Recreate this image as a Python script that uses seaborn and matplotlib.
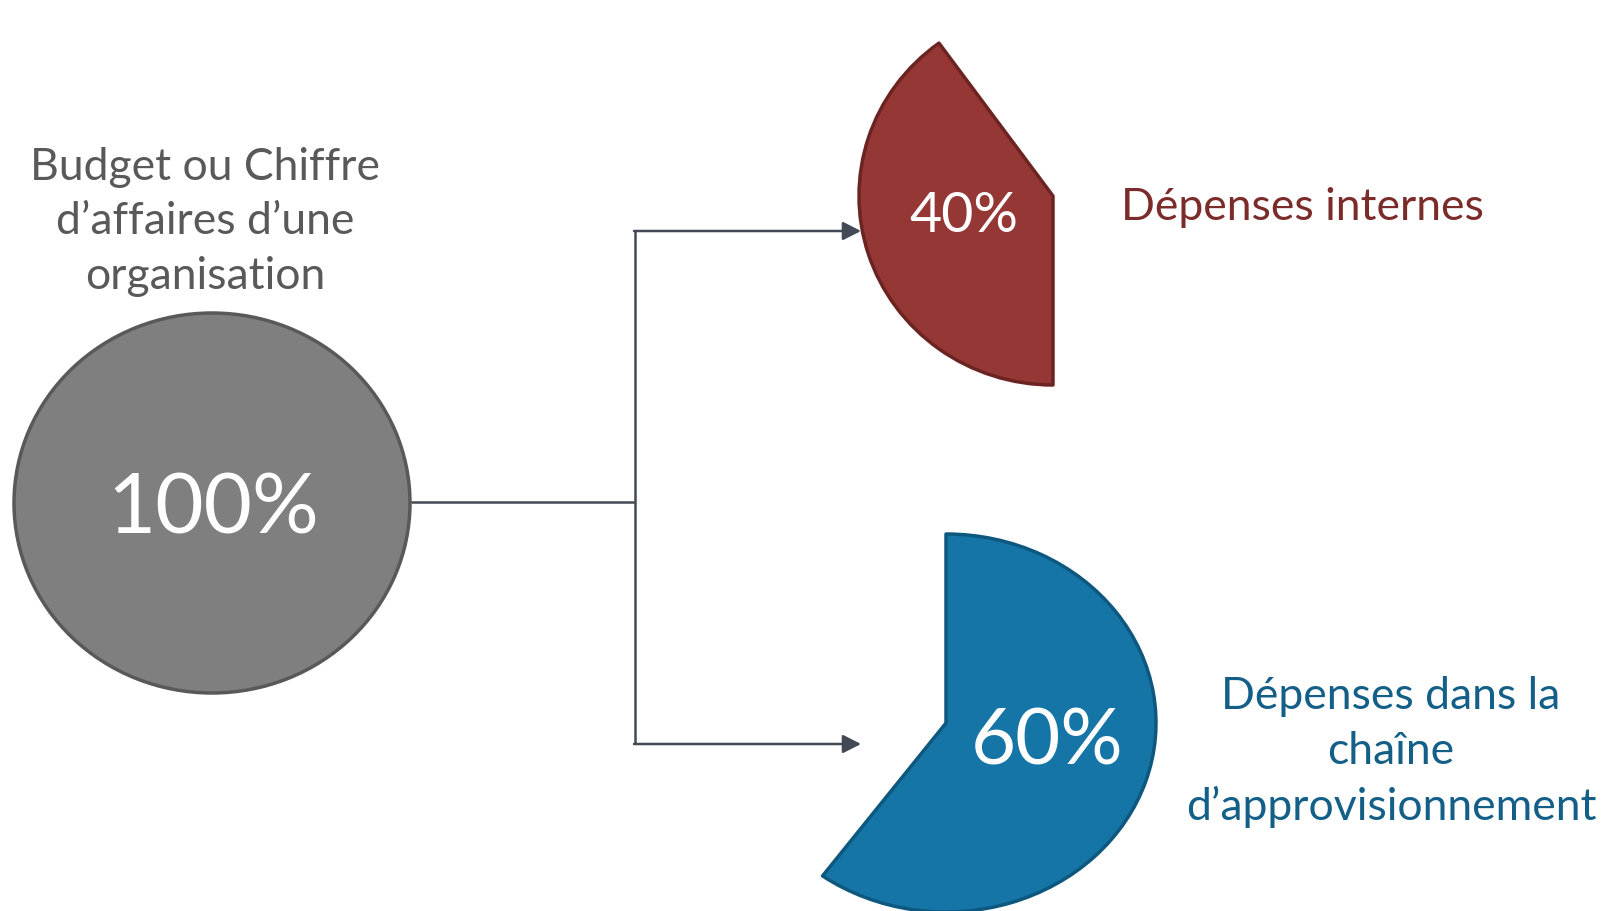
import matplotlib
matplotlib.use("Agg")
import matplotlib.pyplot as plt
from matplotlib.transforms import Affine2D
import seaborn as sns

# Data
total_share = 100
source_label = "Budget ou Chiffre\nd’affaires d’une\norganisation"
categories = ["Dépenses internes", "Dépenses dans la\nchaîne\nd’approvisionnement"]
shares = [40, 60]

sns.set_theme(style="white")
plt.rcParams["font.family"] = ["Lato", "DejaVu Sans"]

W, H = 1604, 911
fig = plt.figure(figsize=(W / 100, H / 100), dpi=100)
ax = fig.add_axes([0, 0, 1, 1])


def Y(y):
    # picture rows are counted from the top
    return H - y


def ellipse_pie(frac, cx, cy, rx, ry, start, face, edge):
    wedges, _ = ax.pie([frac], normalize=False, startangle=start, counterclock=False,
                       colors=[face], radius=1, center=(0, 0),
                       wedgeprops=dict(edgecolor=edge, linewidth=2.5, joinstyle="round"))
    for w in wedges:
        w.set_transform(Affine2D().scale(rx, ry).translate(cx, Y(cy)) + ax.transData)
    return wedges


# 100% source circle
ellipse_pie(total_share / total_share, 212, 503, 198, 190, 90, "#7f7f7f", "#595959")
ax.text(213, Y(510), f"{total_share}%", color="white", fontsize=60, ha="center", va="center")
ax.text(205, Y(222), source_label, color="#595959", fontsize=32, ha="center", va="center",
        linespacing=1.42)

# connectors
line_kw = dict(color="#434a55", lw=1.8, solid_capstyle="butt")
ax.plot([411, 635], [Y(502), Y(502)], **line_kw)
ax.plot([635, 635], [Y(231), Y(744)], **line_kw)
for yy in (231, 744):
    ax.annotate("", xy=(861, Y(yy)), xytext=(634, Y(yy)),
                arrowprops=dict(arrowstyle="-|>,head_length=0.55,head_width=0.28",
                                color="#434a55", lw=1.8, shrinkA=0, shrinkB=0,
                                mutation_scale=20))

# 40% wedge (internal spending)
ellipse_pie(shares[0] / total_share, 1053, 196, 194, 189, 270, "#953735", "#6b2422")
ax.text(964, Y(217), f"{shares[0]}%", color="white", fontsize=40, ha="center", va="center")
ax.text(1121, Y(207), categories[0], color="#7b2b29", fontsize=32, ha="left", va="center")

# 60% wedge (supply chain spending)
ellipse_pie(shares[1] / total_share, 946, 723, 210, 189, 90, "#1675a7", "#0e587f")
ax.text(1047, Y(743), f"{shares[1]}%", color="white", fontsize=56, ha="center", va="center")
ax.text(1391, Y(752), categories[1], color="#135f87", fontsize=32, ha="center", va="center",
        linespacing=1.42)

ax.set_xlim(0, W)
ax.set_ylim(0, H)
ax.set_aspect("equal")
ax.axis("off")
fig.savefig("out.png", dpi=100, facecolor="white")
